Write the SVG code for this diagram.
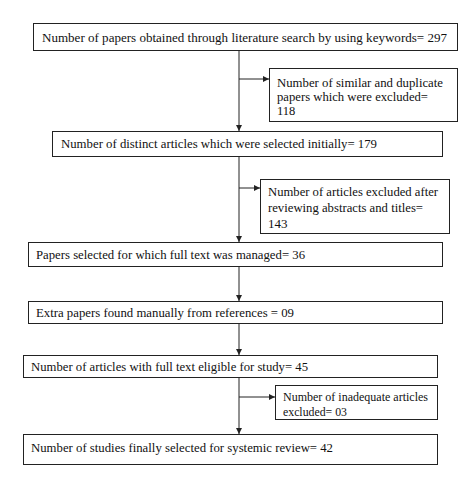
<svg xmlns="http://www.w3.org/2000/svg" width="476" height="492" viewBox="0 0 476 492">
<style>
.box{fill:#fff;stroke:#222;stroke-width:1}
.t{font-size:13px;fill:#111}
.s{font-size:11.5px;fill:#111}
.c{fill:none;stroke:#222;stroke-width:1}
</style>
<defs>
<marker id="ah" viewBox="0 0 8 8" refX="8" refY="4" markerWidth="6" markerHeight="6" orient="auto" markerUnits="userSpaceOnUse">
<path d="M0,0 L8,4 L0,8 Z" fill="#222"/>
</marker>
</defs>
<rect width="476" height="492" fill="#fff"/>
<g id="connectors">
<line class="c" x1="239" y1="51" x2="239" y2="131" marker-end="url(#ah)"/>
<line class="c" x1="239" y1="79" x2="269" y2="79" marker-end="url(#ah)"/>
<line class="c" x1="239" y1="157" x2="239" y2="242" marker-end="url(#ah)"/>
<line class="c" x1="239" y1="188" x2="260" y2="188" marker-end="url(#ah)"/>
<line class="c" x1="239" y1="267" x2="239" y2="301" marker-end="url(#ah)"/>
<line class="c" x1="239" y1="324" x2="239" y2="355" marker-end="url(#ah)"/>
<line class="c" x1="239" y1="378" x2="239" y2="434" marker-end="url(#ah)"/>
<line class="c" x1="239" y1="397" x2="275" y2="397" marker-end="url(#ah)"/>
</g>
<g font-family="Liberation Serif, DejaVu Serif, serif">
<g id="n1">
<rect class="box" x="33.5" y="23.5" width="424" height="27"/>
<text class="t" x="42" y="41.5" textLength="405" lengthAdjust="spacingAndGlyphs">Number of papers obtained through literature search by using keywords= 297</text>
</g>
<g id="n1x">
<rect class="box" x="269.5" y="68.5" width="188" height="53"/>
<text class="t" x="277" y="86.5" style="font-size:12.5px" textLength="166" lengthAdjust="spacingAndGlyphs">Number of similar and duplicate</text>
<text class="t" x="277" y="100.5" style="font-size:12.5px" textLength="151" lengthAdjust="spacingAndGlyphs">papers which were excluded=</text>
<text class="t" x="277" y="114.5" style="font-size:12.5px">118</text>
</g>
<g id="n2">
<rect class="box" x="52.5" y="131.5" width="390" height="25"/>
<text class="t" x="61" y="147.5" textLength="316" lengthAdjust="spacingAndGlyphs">Number of distinct articles which were selected initially= 179</text>
</g>
<g id="n2x">
<rect class="box" x="260.5" y="179.5" width="189" height="54"/>
<text class="t" x="268" y="196" textLength="170" lengthAdjust="spacingAndGlyphs">Number of articles excluded after</text>
<text class="t" x="268" y="212" textLength="155" lengthAdjust="spacingAndGlyphs">reviewing abstracts and titles=</text>
<text class="t" x="268" y="228">143</text>
</g>
<g id="n3">
<rect class="box" x="28.5" y="242.5" width="414" height="24"/>
<text class="t" x="36" y="259" textLength="269" lengthAdjust="spacingAndGlyphs">Papers selected  for which full text was managed= 36</text>
</g>
<g id="n4">
<rect class="box" x="28.5" y="301.5" width="414" height="22"/>
<text class="t" x="36" y="316.5" textLength="258" lengthAdjust="spacingAndGlyphs">Extra papers found manually from references = 09</text>
</g>
<g id="n5">
<rect class="box" x="23.5" y="355.5" width="414" height="22"/>
<text class="t" x="31" y="371" textLength="277" lengthAdjust="spacingAndGlyphs">Number of articles with full text eligible for study= 45</text>
</g>
<g id="n5x">
<rect class="box" x="275.5" y="385.5" width="162" height="34"/>
<text class="s" x="283" y="401" textLength="145" lengthAdjust="spacingAndGlyphs">Number of inadequate articles</text>
<text class="s" x="283" y="416" textLength="64" lengthAdjust="spacingAndGlyphs">excluded= 03</text>
</g>
<g id="n6">
<rect class="box" x="23.5" y="434.5" width="414" height="30"/>
<text class="t" x="31" y="451.5" textLength="302" lengthAdjust="spacingAndGlyphs">Number of studies finally selected for systemic review= 42</text>
</g>
</g>
</svg>
